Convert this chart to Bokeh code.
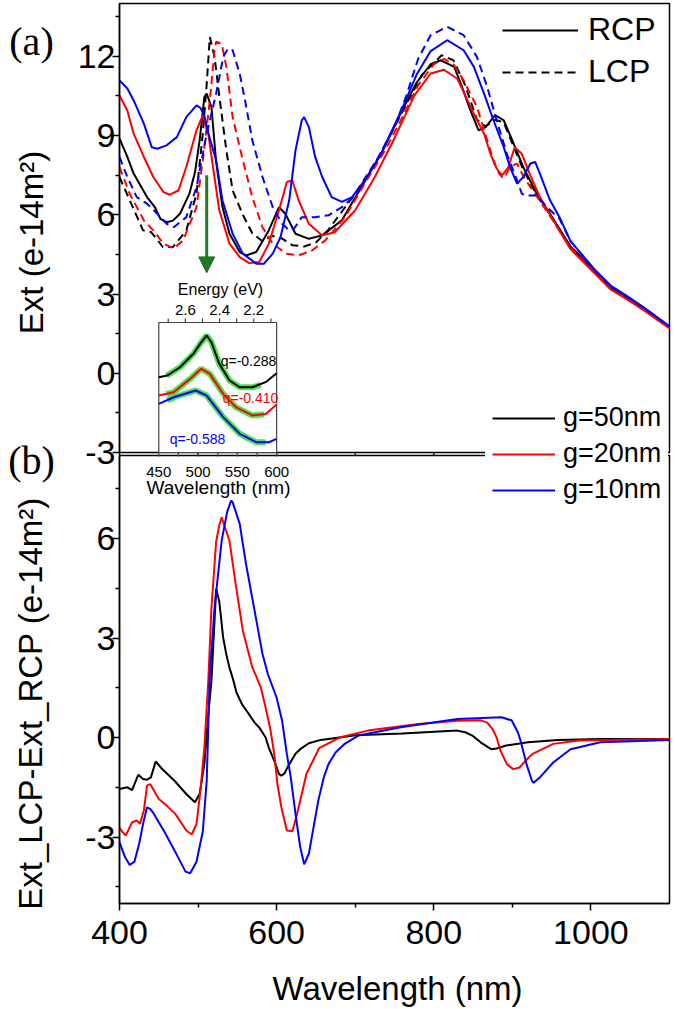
import math
from bokeh.plotting import figure
from bokeh.models import (Range1d, FixedTicker, Label, Legend, LegendItem,
                          Arrow, NormalHead)
from bokeh.core.properties import value
from bokeh.embed import file_html
from bokeh.resources import INLINE

# ---------------------------------------------------------------- data
X_TICKS = [400, 600, 800, 1000]
X_MINOR = [500, 700, 900]
A_TICKS = [-3, 0, 3, 6, 9, 12]
A_MINOR = [-1.5, 1.5, 4.5, 7.5, 10.5, 13.5]
B_TICKS = [-3, 0, 3, 6]
B_MINOR = [-4.5, -1.5, 1.5, 4.5, 7.5]
INSET_WL_TICKS = [450, 500, 550, 600]
INSET_WL_MINOR = [475, 525, 575]
ENERGY_TICKS = [2.6, 2.4, 2.2]
ENERGY_MINOR = [2.7, 2.5, 2.3, 2.1]

# (a) extinction, RCP (solid) / LCP (dashed), gap g = 50, 20, 10 nm
wl_rcp_50 = [400, 410, 418, 435, 445, 452, 460, 468, 477, 489, 496, 502, 508, 511, 517, 523, 531, 540, 553, 561,
             574, 590, 603, 611, 624, 641, 658, 683, 708, 733, 758, 778, 796, 809, 826, 836, 845, 857, 866, 878,
             889, 899, 914, 931, 948, 974, 1004, 1025, 1046, 1068, 1100]
ext_rcp_50 = [8.88, 8.19, 7.56, 6.67, 6.29, 5.85, 5.72, 5.78, 6.04, 6.80, 7.6, 8.82, 10.46, 10.59, 10.08, 8.0, 6.3, 5.28, 4.59, 4.46,
              4.59, 5.41, 6.29, 6.04, 5.28, 5.09, 5.22, 5.79, 7.05, 8.31, 9.85, 11.0, 11.7, 11.85, 11.6, 10.84, 10.08, 9.2, 9.32, 9.77,
              9.58, 8.88, 7.8, 6.8, 6.04, 4.8, 3.89, 3.26, 2.88, 2.44, 1.75]
wl_lcp_50 = [400, 413, 430, 440, 447, 455, 468, 485, 498, 506, 511, 515, 521, 527, 536, 544, 557, 569, 582, 595,
             607, 620, 635, 650, 665, 680, 700, 730, 760, 785, 810, 825, 840, 855, 866, 878, 889, 900, 914, 931,
             948, 974, 1004, 1025, 1046, 1068, 1100]
ext_lcp_50 = [7.43, 6.55, 5.41, 5.35, 5.1, 4.78, 4.78, 5.41, 6.80, 9.07, 10.96, 12.73, 11.97, 10.5, 8.44, 6.92, 6.0, 5.3, 5.0, 5.2,
              5.1, 4.85, 4.8, 4.95, 5.4, 6.0, 6.8, 8.2, 9.9, 11.3, 12.04, 11.85, 10.9, 9.6, 9.35, 9.6, 9.5, 8.7, 7.7, 6.75,
              6.0, 4.8, 3.89, 3.26, 2.88, 2.44, 1.75]
wl_rcp_20 = [400, 410, 418, 431, 443, 456, 464, 475, 485, 498, 506, 513, 519, 527, 540, 553, 565, 578, 590, 603,
             613, 620, 628, 641, 658, 674, 700, 725, 750, 775, 796, 813, 830, 843, 855, 864, 872, 880, 887, 895,
             903, 912, 922, 935, 952, 974, 1004, 1025, 1046, 1068, 1100]
ext_rcp_20 = [10.52, 9.95, 9.07, 8.19, 7.43, 6.86, 6.76, 6.92, 7.81, 9.2, 9.77, 9.07, 7.81, 6.17, 4.91, 4.40, 4.17, 4.21, 4.91, 6.17,
              7.24, 7.30, 6.55, 5.66, 5.22, 5.34, 6.17, 7.43, 8.9, 10.5, 11.35, 11.49, 11.15, 10.33, 9.58, 9.07, 8.31, 7.75, 7.49, 7.81,
              8.56, 8.31, 7.56, 6.67, 5.79, 4.7, 3.8, 3.18, 2.8, 2.37, 1.7]
wl_lcp_20 = [400, 413, 431, 443, 456, 469, 481, 498, 506, 515, 521, 523, 530, 536, 544, 557, 569, 582, 595, 612,
             628, 645, 662, 687, 712, 738, 758, 780, 800, 813, 825, 838, 855, 868, 876, 883, 889, 897, 906, 915,
             931, 948, 974, 1004, 1025, 1046, 1068, 1100]
ext_lcp_20 = [7.81, 6.80, 5.79, 5.41, 4.91, 4.72, 5.03, 6.29, 8.06, 10.33, 12.23, 12.55, 12.48, 11.6, 9.70, 8.06, 6.67, 5.53, 4.91, 4.53,
              4.46, 4.65, 5.03, 5.91, 7.18, 8.44, 9.58, 10.9, 11.7, 11.9, 11.7, 11.09, 10.08, 8.82, 8.06, 7.56, 7.37, 7.81, 7.94, 7.4,
              6.7, 5.95, 4.75, 3.85, 3.2, 2.82, 2.4, 1.72]
wl_rcp_10 = [400, 410, 418, 431, 441, 448, 460, 473, 485, 498, 503, 508, 513, 523, 531, 544, 557, 574, 584, 595,
             605, 616, 624, 632, 635, 641, 649, 658, 670, 683, 696, 712, 733, 758, 778, 796, 817, 838, 851, 864,
             876, 889, 897, 906, 914, 923, 929, 935, 948, 960, 974, 1004, 1025, 1046, 1068, 1100]
ext_rcp_10 = [11.09, 10.78, 10.33, 9.45, 8.56, 8.50, 8.63, 8.94, 9.70, 10.14, 10.05, 9.75, 9.1, 8.06, 6.55, 5.28, 4.53, 4.15, 4.15, 4.53,
              5.16, 6.55, 8.44, 9.58, 9.70, 9.32, 8.19, 7.43, 6.67, 6.49, 6.67, 7.30, 8.31, 9.9, 11.3, 12.2, 12.61, 12.23, 11.6, 10.59,
              9.58, 8.56, 7.81, 7.18, 7.43, 7.94, 8.0, 7.56, 6.55, 5.91, 5.0, 3.95, 3.32, 2.92, 2.48, 1.78]
wl_lcp_10 = [400, 410, 422, 435, 448, 460, 469, 485, 498, 511, 523, 532, 538, 544, 553, 560, 569, 582, 595, 607,
             616, 622, 632, 649, 666, 683, 700, 725, 750, 765, 780, 796, 817, 838, 855, 868, 880, 893, 906, 912,
             916, 931, 944, 960, 974, 1004, 1025, 1046, 1068, 1100]
ext_lcp_10 = [8.19, 7.43, 6.67, 6.42, 6.04, 5.66, 5.53, 5.91, 7.05, 9.07, 10.59, 11.97, 12.29, 12.23, 11.34, 10.3, 8.82, 7.43, 6.29, 5.66,
              5.41, 5.47, 5.91, 5.91, 5.98, 6.29, 6.73, 7.94, 9.32, 10.5, 11.9, 12.8, 13.12, 12.8, 11.97, 10.84, 9.58, 8.31, 7.30, 6.80,
              6.73, 6.73, 6.29, 5.85, 5.0, 3.93, 3.3, 2.9, 2.46, 1.77]

# (b) Ext_LCP - Ext_RCP
wl_d50 = [400, 410, 416, 424, 430, 435, 440, 446, 454, 470, 485, 496, 502, 508, 513, 517, 523, 527, 532, 536,
          540, 544, 549, 556, 562, 572, 578, 586, 590, 597, 603, 606, 610, 614, 624, 630, 641, 656, 685, 700,
          760, 830, 840, 849, 860, 873, 880, 892, 920, 958, 1012, 1100]
d50 = [-1.55, -1.50, -1.58, -1.12, -1.25, -1.27, -1.20, -0.72, -0.94, -1.30, -1.70, -1.95, -1.70, -0.80, 0.70, 1.70, 4.48, 4.10, 3.0, 2.5,
       2.1, 1.8, 1.35, 1.0, 0.8, 0.45, 0.3, 0.0, -0.3, -0.7, -1.1, -1.15, -1.08, -0.89, -0.49, -0.35, -0.17, -0.07, 0.02, 0.07,
       0.12, 0.21, 0.16, 0.06, -0.15, -0.35, -0.33, -0.24, -0.14, -0.07, -0.04, -0.04]
wl_d20 = [400, 404, 408, 413, 416, 422, 426, 431, 435, 439, 444, 450, 460, 471, 485, 492, 498, 503, 508, 513,
          517, 523, 527, 530, 540, 548, 557, 569, 574, 580, 586, 592, 597, 601, 606, 613, 620, 626, 638, 654,
          680, 716, 780, 830, 860, 868, 875, 880, 885, 893, 901, 909, 917, 925, 952, 985, 1100]
d20 = [-2.72, -2.85, -2.95, -2.70, -2.55, -2.50, -2.60, -2.2, -1.45, -1.40, -1.6, -1.85, -2.05, -2.30, -2.80, -2.92, -2.60, -1.60, -0.3, 1.7,
       3.9, 5.9, 6.4, 6.64, 5.93, 4.6, 3.22, 2.12, 1.85, 1.5, 0.9, 0.25, -0.5, -1.4, -2.1, -2.80, -2.82, -2.30, -1.09, -0.32,
       0.0, 0.21, 0.41, 0.51, 0.52, 0.45, 0.25, 0.0, -0.4, -0.8, -0.95, -0.9, -0.7, -0.5, -0.19, -0.09, -0.04]
wl_d10 = [400, 407, 413, 419, 425, 430, 435, 439, 443, 457, 470, 484, 490, 498, 506, 511, 515, 521, 530, 537,
          542, 544, 553, 561, 569, 582, 589, 600, 607, 613, 618, 624, 630, 635, 641, 647, 653, 660, 666, 675,
          686, 704, 758, 830, 886, 899, 907, 911, 918, 925, 927, 935, 952, 974, 1012, 1100]
d10 = [-3.15, -3.6, -3.84, -3.74, -3.2, -2.6, -2.1, -2.15, -2.27, -2.83, -3.4, -4.04, -4.09, -3.74, -2.83, -1.31, 1.92, 3.92, 5.93, 6.8,
       7.14, 7.09, 6.44, 5.23, 4.2, 2.52, 1.9, 1.2, 0.5, -0.5, -1.2, -2.3, -3.3, -3.82, -3.5, -2.7, -1.9, -1.2, -0.8, -0.45,
       -0.2, 0.06, 0.31, 0.56, 0.61, 0.52, 0.16, -0.14, -0.8, -1.31, -1.36, -1.2, -0.75, -0.35, -0.14, -0.07]

# inset: normalised, offset RCP spectra (arb. units) and Fano fits
inset_wl_50 = [450, 461, 477, 494, 504, 511, 517, 527, 540, 553, 569, 586, 600]
inset_50 = [0.579, 0.592, 0.656, 0.759, 0.848, 0.90, 0.848, 0.682, 0.554, 0.502, 0.502, 0.541, 0.61]
inset_wl_20 = [450, 469, 490, 504, 515, 532, 548, 569, 586, 600]
inset_20 = [0.438, 0.464, 0.567, 0.644, 0.605, 0.451, 0.349, 0.285, 0.297, 0.37]
inset_wl_10 = [450, 469, 497, 511, 532, 553, 574, 590, 600]
inset_10 = [0.374, 0.425, 0.477, 0.438, 0.272, 0.144, 0.079, 0.079, 0.105]
fit_wl_50 = [460, 477, 494, 504, 511, 517, 527, 540, 553, 569, 580]
fit_50 = [0.59, 0.656, 0.759, 0.848, 0.90, 0.848, 0.682, 0.554, 0.502, 0.502, 0.52]
fit_wl_20 = [460, 469, 490, 504, 515, 532, 548, 569, 584]
fit_20 = [0.45, 0.464, 0.567, 0.644, 0.605, 0.451, 0.349, 0.285, 0.295]
fit_wl_10 = [461, 469, 497, 511, 532, 553, 574, 586]
fit_10 = [0.40, 0.425, 0.477, 0.438, 0.272, 0.144, 0.079, 0.079]
q_labels = ["q=-0.288", "q=-0.410", "q=-0.588"]

ARROW_WL = 511          # resonance marked by the arrow
ARROW_FROM, ARROW_TO = 7.5, 3.8

# ---------------------------------------------------------------- layout
SANS = "Liberation Sans"
SERIF = "Liberation Serif"
BLACK, RED, BLUE = "#000000", "#ff0000", "#0000ff"
FIT_GREEN, ARROW_GREEN = "#3ddc3d", "#1f7a1f"
W, H = 675, 1009                      # canvas == frame; axes fixed inside
FRAME_L, FRAME_R = 119, 669           # data-area edges, canvas pixels
FRAME_T, FRAME_B = 3, 903
A_BOT, B_TOP, INSET_TOP = 452, 455, 322
X_LO, X_HI = 400, 1100
A_LO, A_HI = -3, 14
B_LO, B_HI = -5, 8.5
INSET_WL_LO, INSET_WL_HI = 450, 600

sx = (FRAME_R - FRAME_L) / (X_HI - X_LO)
sa = (A_BOT - FRAME_T) / (A_HI - A_LO)
sb = (FRAME_B - B_TOP) / (B_HI - B_LO)
si = (A_BOT - INSET_TOP)


def xd(px):
    return X_LO + (px - FRAME_L) / sx


def yb(py):
    return B_LO + (FRAME_B - py) / sb


def ya(py):
    return A_LO + (A_BOT - py) / sa


def yi(py):
    return (A_BOT - py) / si


def a_to_b(v):
    return round(yb(A_BOT - (v - A_LO) * sa), 6)


E_L, E_R = 1239.84 / INSET_WL_LO, 1239.84 / INSET_WL_HI
k_e = (E_L - E_R) / (INSET_WL_HI - INSET_WL_LO)


def energy_at(nm):
    return E_L - (nm - INSET_WL_LO) * k_e


p = figure(width=W, height=H,
           x_range=Range1d(xd(0), xd(W)), y_range=Range1d(yb(H), yb(0)),
           output_backend="svg", toolbar_location=None,
           min_border_left=0, min_border_right=0, min_border_top=0, min_border_bottom=0)
p.title.visible = False
p.extra_y_ranges = {"a": Range1d(ya(H), ya(0)),
                    "inset": Range1d(yi(H), yi(0))}
p.extra_x_ranges = {"energy": Range1d(energy_at(xd(0)), energy_at(xd(W)))}
p.xgrid.visible = False
p.ygrid.visible = False
p.outline_line_color = None
p.background_fill_color = "white"
p.border_fill_color = "white"

# axes (fixed at the data-area edges)
xa = p.xaxis[0]
xa.ticker = FixedTicker(ticks=X_TICKS, minor_ticks=X_MINOR)
xa.fixed_location = B_LO
xa.bounds = (X_LO, X_HI)
ya_ax = p.yaxis[0]
y_major = [float(v) for v in B_TICKS] + [a_to_b(v) for v in A_TICKS]
y_minor = [float(v) for v in B_MINOR] + [a_to_b(v) for v in A_MINOR]
ya_ax.ticker = FixedTicker(ticks=y_major, minor_ticks=y_minor)
overrides = {float(v): str(v) for v in B_TICKS}
overrides.update({a_to_b(v): str(v) for v in A_TICKS})
ya_ax.major_label_overrides = overrides
ya_ax.fixed_location = X_LO
ya_ax.bounds = (B_LO, yb(FRAME_T))
for ax in (xa, ya_ax):
    ax.axis_line_width = 1.5
    ax.axis_line_color = "black"
    ax.major_tick_line_width = 1.5
    ax.minor_tick_line_width = 1.5
    ax.major_tick_line_color = "black"
    ax.minor_tick_line_color = "black"
    ax.major_tick_in = 0
    ax.major_tick_out = 7
    ax.minor_tick_in = 0
    ax.minor_tick_out = 4
    ax.major_label_text_font = SANS
    ax.major_label_text_font_size = "34px"
    ax.major_label_text_color = "black"
xa.major_label_standoff = 10
ya_ax.major_label_standoff = -3

# panel boxes (the gap between them separates (a) and (b))
p.quad(left=[X_LO], right=[X_HI], bottom=[A_LO], top=[A_HI], y_range_name="a",
       fill_color=None, line_color="black", line_width=1.5)
p.quad(left=[X_LO], right=[X_HI], bottom=[B_LO], top=[B_HI],
       fill_color=None, line_color="black", line_width=1.5)
gap_x = X_TICKS + X_MINOR
p.segment(x0=gap_x, x1=gap_x, y0=[A_LO] * len(gap_x), y1=[A_LO - 3 / sa] * len(gap_x),
          y_range_name="a", line_color="black", line_width=1.2)

# panel (a) curves
DASH = "8 5"
r_rcp50 = p.line(wl_rcp_50, ext_rcp_50, y_range_name="a", line_color=BLACK, line_width=2)
r_lcp50 = p.line(wl_lcp_50, ext_lcp_50, y_range_name="a", line_color=BLACK, line_width=2, line_dash=DASH)
p.line(wl_rcp_20, ext_rcp_20, y_range_name="a", line_color=RED, line_width=2)
p.line(wl_lcp_20, ext_lcp_20, y_range_name="a", line_color=RED, line_width=2, line_dash=DASH)
p.line(wl_rcp_10, ext_rcp_10, y_range_name="a", line_color=BLUE, line_width=2)
p.line(wl_lcp_10, ext_lcp_10, y_range_name="a", line_color=BLUE, line_width=2, line_dash=DASH)

# panel (b) curves
r_d50 = p.line(wl_d50, d50, line_color=BLACK, line_width=2)
r_d20 = p.line(wl_d20, d20, line_color=RED, line_width=2)
r_d10 = p.line(wl_d10, d10, line_color=BLUE, line_width=2)

# inset
p.quad(left=[INSET_WL_LO], right=[INSET_WL_HI], bottom=[0], top=[1], y_range_name="inset",
       fill_color="white", line_color="#444444", line_width=1.2)
for fx, fy in ((fit_wl_50, fit_50), (fit_wl_20, fit_20), (fit_wl_10, fit_10)):
    p.line(fx, fy, y_range_name="inset", line_color=FIT_GREEN, line_width=6, line_alpha=0.9)
p.line(inset_wl_50, inset_50, y_range_name="inset", line_color=BLACK, line_width=2)
p.line(inset_wl_20, inset_20, y_range_name="inset", line_color=RED, line_width=2)
p.line(inset_wl_10, inset_10, y_range_name="inset", line_color=BLUE, line_width=2)

tl = 4 / si
wl_t = INSET_WL_TICKS + INSET_WL_MINOR
p.segment(x0=wl_t, x1=wl_t, y0=[0] * len(wl_t), y1=[-tl] * len(wl_t),
          y_range_name="inset", line_color="#444444", line_width=1.2)
e_t = ENERGY_TICKS + ENERGY_MINOR
p.segment(x0=e_t, x1=e_t, y0=[1] * len(e_t), y1=[1 + tl] * len(e_t),
          x_range_name="energy", y_range_name="inset", line_color="#444444", line_width=1.2)
p.text(x=ENERGY_TICKS, y=[yi(309)] * len(ENERGY_TICKS), text=[f"{e:.1f}" for e in ENERGY_TICKS],
       x_range_name="energy", y_range_name="inset", text_align="center", text_baseline="middle",
       text_font=value(SANS), text_font_size="15px", text_color="black")
p.text(x=[xd(220)], y=[yi(289)], text=["Energy (eV)"], y_range_name="inset",
       text_align="center", text_baseline="middle",
       text_font=value(SANS), text_font_size="16px", text_color="black")
p.text(x=INSET_WL_TICKS, y=[yi(471)] * len(INSET_WL_TICKS), text=[str(v) for v in INSET_WL_TICKS],
       y_range_name="inset", text_align="center", text_baseline="middle",
       text_font=value(SANS), text_font_size="15px", text_color="black")
p.text(x=[xd(218)], y=[yi(487)], text=["Wavelength (nm)"], y_range_name="inset",
       text_align="center", text_baseline="middle",
       text_font=value(SANS), text_font_size="19px", text_color="black")
p.text(x=[xd(248), xd(250), xd(197)], y=[yi(360), yi(397), yi(438)], text=q_labels,
       y_range_name="inset", text_align="center", text_baseline="middle",
       text_font=value(SANS), text_font_size="14px", text_color=[BLACK, RED, BLUE])

# green arrow
p.add_layout(Arrow(end=NormalHead(size=16, fill_color=ARROW_GREEN, line_color=ARROW_GREEN),
                   x_start=ARROW_WL, y_start=ARROW_FROM, x_end=ARROW_WL, y_end=ARROW_TO,
                   y_range_name="a", line_color=ARROW_GREEN, line_width=3))

# legends
def add_legend(items, left, top, glyph_w, item_h, gap, standoff, font_px, pad=0, bg_alpha=0.0):
    height = len(items) * item_h + (len(items) - 1) * gap + 2 * pad
    leg = Legend(items=items, location=(left - pad, H - (top - pad + height)),
                 glyph_width=glyph_w, glyph_height=item_h, label_height=item_h,
                 label_standoff=standoff, spacing=gap, padding=pad, margin=0,
                 border_line_alpha=0, background_fill_color="white", background_fill_alpha=bg_alpha,
                 label_text_font=SANS, label_text_font_size=f"{font_px}px",
                 label_text_color="black")
    p.add_layout(leg)

add_legend([LegendItem(label="RCP", renderers=[r_rcp50]),
            LegendItem(label="LCP", renderers=[r_lcp50])],
           left=502, top=13, glyph_w=76, item_h=36, gap=5, standoff=10, font_px=32)
add_legend([LegendItem(label="g=50nm", renderers=[r_d50]),
            LegendItem(label="g=20nm", renderers=[r_d20]),
            LegendItem(label="g=10nm", renderers=[r_d10])],
           left=492, top=405, glyph_w=63, item_h=30, gap=5, standoff=8, font_px=27,
           pad=7, bg_alpha=1.0)

# outer labels
def add_label(text, px, py, size, font=SANS, angle=0.0):
    p.add_layout(Label(x=xd(px), y=yb(py), text=text, angle=angle,
                       text_align="center", text_baseline="middle",
                       text_font=font, text_font_size=f"{size}px", text_color="black"))

add_label("(a)", 31, 41, 40, font=SERIF)
add_label("(b)", 31, 460, 40, font=SERIF)
add_label("Ext (e-14m²)", 31, 242, 33, angle=math.pi / 2)
add_label("Ext_LCP-Ext_RCP (e-14m²)", 30, 703, 33, angle=math.pi / 2)
add_label("Wavelength (nm)", 397, 988, 33)

open("out.html", "w").write(file_html(p, INLINE))
